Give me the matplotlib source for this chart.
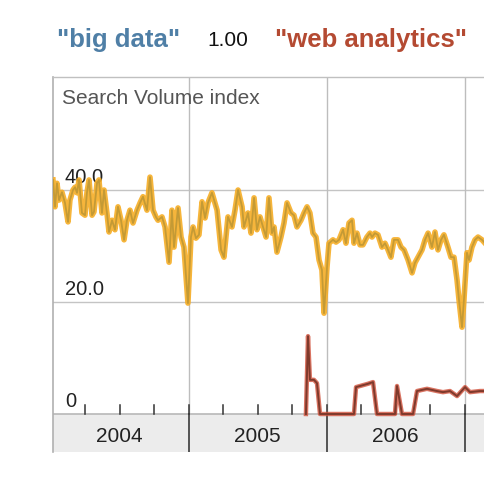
import matplotlib
matplotlib.use("Agg")
import matplotlib.pyplot as plt

plt.rcParams['font.family'] = ['Liberation Sans', 'DejaVu Sans']

# ---- data (decimal years, search volume index) ----
big_t = [2004.018, 2004.033, 2004.047, 2004.062, 2004.083, 2004.105, 2004.127, 2004.141,
         2004.163, 2004.178, 2004.192, 2004.207, 2004.228, 2004.250, 2004.264, 2004.279,
         2004.301, 2004.315, 2004.337, 2004.351, 2004.373, 2004.388, 2004.409, 2004.424,
         2004.446, 2004.467, 2004.489, 2004.511, 2004.533, 2004.554, 2004.576, 2004.598,
         2004.627, 2004.649, 2004.670, 2004.699, 2004.721, 2004.743, 2004.764, 2004.779,
         2004.808, 2004.830, 2004.859, 2004.880, 2004.895, 2004.924, 2004.946, 2004.967,
         2004.996, 2005.018, 2005.033, 2005.054, 2005.076, 2005.098, 2005.120, 2005.141,
         2005.170, 2005.207, 2005.236, 2005.257, 2005.286, 2005.315, 2005.337, 2005.359,
         2005.388, 2005.402, 2005.431, 2005.453, 2005.475, 2005.496, 2005.518, 2005.540,
         2005.562, 2005.583, 2005.605, 2005.620, 2005.641, 2005.670, 2005.692, 2005.714,
         2005.743, 2005.764, 2005.786, 2005.815, 2005.837, 2005.859, 2005.880, 2005.902,
         2005.924, 2005.946, 2005.967, 2005.982, 2006.004, 2006.018, 2006.047, 2006.069,
         2006.091, 2006.120, 2006.141, 2006.163, 2006.185, 2006.199, 2006.221, 2006.243,
         2006.264, 2006.293, 2006.315, 2006.330, 2006.351, 2006.373, 2006.402, 2006.424,
         2006.446, 2006.467, 2006.489, 2006.518, 2006.540, 2006.562, 2006.591, 2006.620,
         2006.641, 2006.663, 2006.692, 2006.714, 2006.736, 2006.764, 2006.786, 2006.808,
         2006.830, 2006.851, 2006.880, 2006.902, 2006.924, 2006.946, 2006.960, 2006.982,
         2006.996, 2007.018, 2007.033, 2007.054, 2007.076, 2007.098, 2007.127, 2007.149]
big_v = [41.8, 37.0, 41.2, 38.2, 39.6, 37.7, 34.3, 38.2,
         40.0, 40.5, 39.5, 41.8, 35.9, 35.5, 39.5, 41.8,
         35.5, 36.1, 41.2, 41.8, 35.9, 40.0, 35.9, 32.5,
         34.6, 32.9, 37.0, 34.6, 31.1, 34.6, 36.4, 34.1,
         36.4, 37.7, 38.8, 36.4, 42.3, 36.4, 35.2, 34.6,
         35.2, 33.4, 27.1, 36.4, 29.8, 36.8, 31.6, 29.8,
         19.8, 31.6, 33.4, 31.4, 32.0, 37.9, 35.0, 37.7,
         39.5, 36.4, 29.3, 28.0, 35.2, 33.4, 36.4, 40.0,
         37.0, 33.4, 35.9, 32.3, 38.6, 32.9, 35.2, 33.4,
         31.6, 38.6, 32.3, 33.4, 28.9, 31.6, 34.1, 37.7,
         35.9, 35.5, 33.4, 34.6, 35.9, 37.0, 35.9, 32.3,
         31.6, 27.5, 25.7, 18.0, 26.3, 30.5, 31.1, 30.7,
         31.1, 32.9, 30.5, 34.1, 34.6, 30.5, 32.3, 30.2,
         30.2, 31.6, 32.3, 31.6, 32.3, 32.0, 29.8, 30.5,
         29.3, 28.0, 31.1, 31.1, 29.8, 29.3, 27.5, 25.2,
         27.0, 28.0, 29.3, 31.1, 32.3, 29.8, 32.5, 29.3,
         31.1, 32.0, 29.8, 28.0, 28.0, 23.9, 20.4, 15.5,
         20.4, 28.8, 27.5, 29.8, 31.1, 31.6, 31.1, 30.5]

web_t = [2005.851, 2005.866, 2005.880, 2005.909, 2005.931, 2005.953, 2006.199, 2006.214,
         2006.301, 2006.337, 2006.366, 2006.496, 2006.511, 2006.547, 2006.627, 2006.656,
         2006.728, 2006.801, 2006.844, 2006.895, 2006.946, 2007.004, 2007.040, 2007.112,
         2007.149]
web_v = [0.0, 13.9, 6.1, 6.1, 5.5, 0.0, 0.0, 4.8,
         5.4, 5.7, 0.0, 0.0, 5.0, 0.0, 0.0, 4.1,
         4.5, 4.1, 3.9, 4.1, 3.2, 4.8, 3.9, 4.1,
         4.1]

years = [2004, 2005, 2006]
year_labels = ["2004", "2005", "2006"]
y_ticks = [40.0, 20.0, 0.0]
y_tick_labels = ["40.0", "20.0", "0"]

# ---- figure ----
W, H = 485, 484
fig = plt.figure(figsize=(W / 100, H / 100), dpi=100)
fig.patch.set_facecolor("white")

px_per_unit = 5.6
px_per_year = 138.0
y0_px = 414.0
x2004_px = 50.5
ax_left, ax_right = 53.0, 485.0
ax_top, ax_bot = 77.0, 452.0
ax = fig.add_axes([ax_left / W, 1 - ax_bot / H, (ax_right - ax_left) / W, (ax_bot - ax_top) / H])
ymin = -(ax_bot - y0_px) / px_per_unit
ymax = (y0_px - ax_top) / px_per_unit
x0 = 2004.0 + (ax_left - x2004_px) / px_per_year
x1 = 2004.0 + (ax_right - x2004_px) / px_per_year
ax.set_xlim(x0, x1)
ax.set_ylim(ymin, ymax)
ax.axis("off")

# frame lines
ax.plot([x0, x0], [ymin, ymax], color="#b0b0b0", lw=1.2, clip_on=False)
ax.plot([x0, x1], [ymax, ymax], color="#c0c0c0", lw=1.0, clip_on=False)

# bottom year band
ax.axhspan(ymin, 0, color="#ececec", zorder=0)
ax.axhline(0, color="#b8b8b8", lw=1.2, zorder=1)

# horizontal gridlines
for v in y_ticks[:-1]:
    ax.axhline(v, color="#c4c4c4", lw=1.0, zorder=1)

# vertical year lines
for yr in [2005, 2006, 2007]:
    ax.plot([yr, yr], [0, ymax], color="#bdbdbd", lw=1.0, zorder=1)
    ax.plot([yr, yr], [ymin, 0], color="#3a3a3a", lw=1.2, zorder=1)

# quarter ticks
q = 2004.25
while q < x1:
    ax.plot([q, q], [0, 1.6], color="#333333", lw=1.1, zorder=2)
    q += 0.25

# year labels
for yr, lab in zip(years, year_labels):
    ax.text(yr + 0.5, ymin / 2 - 0.6, lab, ha="center", va="center", fontsize=15, color="#222222")

# y labels
lab_x = 2004.0 + (65 - x2004_px) / px_per_year
for v, lab in zip(y_ticks, y_tick_labels):
    ax.text(lab_x, v + 2.2, lab, ha="left", va="center", fontsize=14.5, color="#222222", zorder=3)
ax.text(2004.0 + (62 - x2004_px) / px_per_year, ymax - 22 / px_per_unit, "Search Volume index",
        ha="left", va="center", fontsize=15, color="#555555", zorder=3)

# series
ax.plot(big_t, big_v, color="#f6ad25", lw=4.0, alpha=0.9, zorder=4, solid_joinstyle="round")
ax.plot(big_t, big_v, color="#c49a35", lw=1.3, zorder=5, solid_joinstyle="round")
ax.plot(web_t, web_v, color="#d0503a", lw=3.2, alpha=0.8, zorder=4, solid_joinstyle="round")
ax.plot(web_t, web_v, color="#7e3a2c", lw=1.4, zorder=5, solid_joinstyle="round")

# legend title
fig.text(57 / W, 1 - 40 / H, '"big data"', ha="left", va="center", fontsize=18.5,
         fontweight="bold", color="#4f7fa6")
fig.text(207 / W, 1 - 40 / H, "1.00", ha="left", va="center", fontsize=15, color="#111111")
fig.text(275 / W, 1 - 40 / H, '"web analytics"', ha="left", va="center", fontsize=18.5,
         fontweight="bold", color="#b44a32")

fig.savefig("out.png", dpi=100, facecolor="white")
